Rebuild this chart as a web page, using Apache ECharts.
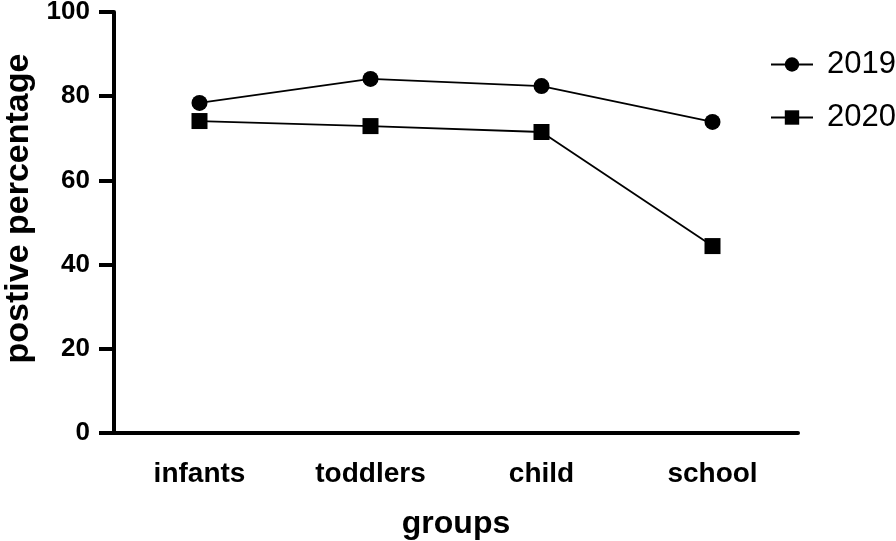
<!DOCTYPE html>
<html>
<head>
<meta charset="utf-8">
<script src="https://cdn.jsdelivr.net/npm/echarts@6/dist/echarts.min.js"></script>
<style>
  html, body { margin: 0; padding: 0; background: #fff; }
  #chart { width: 896px; height: 541px; }
</style>
</head>
<body>
<div id="chart"></div>
<script>
const groups = ['infants', 'toddlers', 'child', 'school']
const values2019 = [78.4, 84.1, 82.4, 73.9]
const values2020 = [74.1, 72.9, 71.5, 44.4]
const yTicks = [0, 20, 40, 60, 80, 100]

const font = 'Liberation Sans, Arial, sans-serif'
const chart = echarts.init(document.getElementById('chart'))

function lineSeries(name, data, symbol) {
  return {
    name,
    type: 'line',
    data,
    symbol,
    symbolSize: 16,
    showAllSymbol: true,
    itemStyle: { color: '#000' },
    lineStyle: { color: '#000', width: 1.8 },
  }
}

chart.setOption({
  animation: false,
  grid: { left: 114, right: 98, top: 12, bottom: 108, containLabel: false, outerBoundsMode: 'none' },
  legend: {
    orient: 'vertical',
    left: 765,
    top: 44,
    itemWidth: 42,
    itemHeight: 18,
    itemGap: 22,
    textStyle: { color: '#000', fontFamily: font, fontSize: 31, padding: [0, 0, 0, 9] },
    data: ['2019', '2020'],
  },
  xAxis: {
    type: 'category',
    data: groups,
    name: 'groups',
    nameLocation: 'middle',
    nameGap: 75,
    nameTextStyle: { color: '#000', fontFamily: font, fontSize: 32, fontWeight: 'bold' },
    axisLine: { lineStyle: { color: '#000', width: 4 } },
    axisTick: { alignWithLabel: true, length: 17, lineStyle: { color: '#000', width: 4 } },
    axisLabel: { color: '#000', fontFamily: font, fontSize: 28, fontWeight: 'bold', margin: 27 },
  },
  yAxis: {
    type: 'value',
    min: yTicks[0],
    max: yTicks[yTicks.length - 1],
    interval: 20,
    name: 'postive percentage',
    nameLocation: 'middle',
    nameGap: 78,
    nameTextStyle: { color: '#000', fontFamily: font, fontSize: 34, fontWeight: 'bold', padding: [0, 0, 0, 28] },
    axisLine: { show: true, lineStyle: { color: '#000', width: 4 } },
    axisTick: { show: true, length: 15, lineStyle: { color: '#000', width: 4 } },
    axisLabel: { color: '#000', fontFamily: font, fontSize: 26, fontWeight: 'bold', margin: 24 },
    splitLine: { show: false },
  },
  series: [
    lineSeries('2019', values2019, 'circle'),
    lineSeries('2020', values2020, 'rect'),
  ],
})
</script>
</body>
</html>
